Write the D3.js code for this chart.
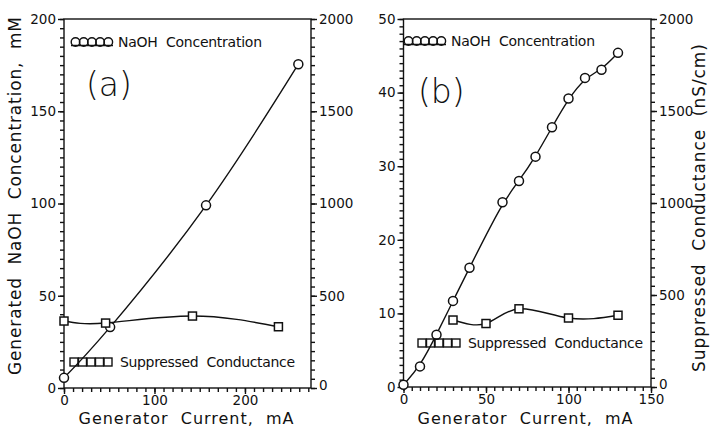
<!DOCTYPE html>
<html>
<head>
<meta charset="utf-8">
<script src="https://cdn.jsdelivr.net/npm/d3@7"></script>
<style>
  body { margin: 0; background: #fff; }
  svg text { font-family: "DejaVu Sans", sans-serif; fill: #111; }
</style>
</head>
<body>
<svg width="717" height="427"></svg>
<script>
// panel (a)
var currentA = [0, 51, 157, 259];
var naohA = [5.5, 33, 99, 175.5];
var condCurrentA = [0, 46, 142, 237];
var condA = [363, 352, 390, 332];

// panel (b)
var currentB = [0, 10, 20, 30, 40, 60, 70, 80, 90, 100, 110, 120, 130];
var naohB = [0.3, 2.8, 7.1, 11.7, 16.2, 25.1, 28.0, 31.3, 35.3, 39.2, 42.0, 43.1, 45.4];
var condCurrentB = [30, 50, 70, 100, 130];
var condB = [364, 345, 425, 375, 390];

var legendNaOH = "NaOH  Concentration";
var legendCond = "Suppressed  Conductance";
var xTitle = "Generator  Current,  mA";
var yLeftTitle = "Generated  NaOH  Concentration,  mM";
var yRightTitle = "Suppressed  Conductance  (nS/cm)";

var svg = d3.select('svg');

var drawPanel = function(p)
{
  var x = d3.scaleLinear().domain(p.xDomain).range([p.left, p.right]);
  var y = d3.scaleLinear().domain(p.yDomain).range([p.bottom, p.top]);
  var y2 = d3.scaleLinear().domain([0, 2000]).range([p.bottom, p.top]);
  var g = svg.append('g');

  // frame
  g.append('rect')
    .attr('x', p.left).attr('y', p.top)
    .attr('width', p.right - p.left).attr('height', p.bottom - p.top)
    .attr('fill', 'none').attr('stroke', '#111').attr('stroke-width', 1.4);

  // minor ticks
  var minorX = d3.axisBottom(x).tickValues(d3.range(p.xDomain[0], p.xDomain[1] + 0.01, p.xMinor)).tickSize(4).tickFormat('');
  var minorY = d3.axisLeft(y).tickValues(d3.range(p.yDomain[0], p.yDomain[1] + 0.01, p.yMinor)).tickSize(4).tickFormat('');
  var minorY2 = d3.axisRight(y2).tickValues(d3.range(0, 2001, 50)).tickSize(4).tickFormat('');
  g.append('g').attr('transform', 'translate(0,' + p.bottom + ')').call(minorX);
  g.append('g').attr('transform', 'translate(' + p.left + ',0)').call(minorY);
  g.append('g').attr('transform', 'translate(' + p.right + ',0)').call(minorY2);

  // major ticks
  var xAxis = d3.axisBottom(x).tickValues(p.xTicks).tickSize(6).tickPadding(1);
  var yAxis = d3.axisLeft(y).tickValues(p.yTicks).tickSize(6).tickPadding(2);
  var y2Axis = d3.axisRight(y2).tickValues([0, 500, 1000, 1500, 2000]).tickSize(6).tickPadding(2)
                 .tickFormat(d3.format('d'));
  g.append('g').attr('transform', 'translate(0,' + p.bottom + ')').call(xAxis);
  g.append('g').attr('transform', 'translate(' + p.left + ',0)').call(yAxis);
  var rightAx = g.append('g').attr('transform', 'translate(' + p.right + ',0)').call(y2Axis);
  // nudge the bottom right label up so it clears the last x label
  rightAx.selectAll('.tick text').filter(function(d) { return d === 0; }).attr('dy', '0.1em');

  g.selectAll('.domain').remove();
  g.selectAll('.tick line').attr('stroke', '#111').attr('stroke-width', 1.4);
  g.selectAll('.tick text').style('font-size', '13.5px').attr('fill', '#111');

  // NaOH curve + circles
  var naohPts = p.naohX.map(function(d, i) { return [d, p.naohY[i]]; });
  g.append('path')
    .attr('d', d3.line().x(function(d) { return x(d[0]); }).y(function(d) { return y(d[1]); }).curve(p.naohCurve)(naohPts))
    .attr('fill', 'none').attr('stroke', '#111').attr('stroke-width', 1.4);
  g.selectAll('circle.pt').data(naohPts).enter().append('circle')
    .attr('cx', function(d) { return x(d[0]); })
    .attr('cy', function(d) { return y(d[1]); })
    .attr('r', 4.5).attr('fill', '#fff').attr('stroke', '#111').attr('stroke-width', 1.5);

  // conductance curve + squares
  var condPts = p.condX.map(function(d, i) { return [d, p.condY[i]]; });
  g.append('path')
    .attr('d', d3.line().x(function(d) { return x(d[0]); }).y(function(d) { return y2(d[1]); }).curve(d3.curveNatural)(condPts))
    .attr('fill', 'none').attr('stroke', '#111').attr('stroke-width', 1.4);
  g.selectAll('rect.pt').data(condPts).enter().append('rect')
    .attr('x', function(d) { return x(d[0]) - 4; })
    .attr('y', function(d) { return y2(d[1]) - 4; })
    .attr('width', 8).attr('height', 8)
    .attr('fill', '#fff').attr('stroke', '#111').attr('stroke-width', 1.5);

  // legend: circles
  var lc = p.legCirc;
  g.append('line').attr('x1', lc[0]).attr('x2', lc[0] + 42).attr('y1', lc[1] + 3.5).attr('y2', lc[1] + 3.5)
    .attr('stroke', '#111').attr('stroke-width', 1.4);
  g.selectAll('circle.leg').data(d3.range(5)).enter().append('circle')
    .attr('cx', function(d) { return lc[0] + 4.5 + d * 8.2; })
    .attr('cy', lc[1]).attr('r', 4.3)
    .attr('fill', 'none').attr('stroke', '#111').attr('stroke-width', 1.4);
  g.append('text').attr('x', lc[0] + 47).attr('y', lc[1] + 5)
    .attr('textLength', 144).style('font-size', '14px').style('white-space', 'pre')
    .text(legendNaOH);

  // legend: squares
  var ls = p.legSq;
  g.selectAll('rect.leg').data(d3.range(5)).enter().append('rect')
    .attr('x', function(d) { return ls[0] + d * 8.5; })
    .attr('y', ls[1] - 4).attr('width', 8).attr('height', 8)
    .attr('fill', 'none').attr('stroke', '#111').attr('stroke-width', 1.4);
  g.append('text').attr('x', ls[0] + 50).attr('y', ls[1] + 5)
    .attr('textLength', 175).style('font-size', '14px').style('white-space', 'pre')
    .text(legendCond);

  // panel label
  g.append('text').attr('x', p.tag[0]).attr('y', p.tag[1])
    .style('font-size', '33px').style('font-weight', '200')
    .text(p.tagText);

  // x title
  g.append('text').attr('x', p.xTitleX).attr('y', 424)
    .attr('text-anchor', 'middle').attr('textLength', 215)
    .style('font-size', '16px').style('white-space', 'pre')
    .text(xTitle);
};

drawPanel({
  left: 64, right: 311, top: 19, bottom: 388,
  xDomain: [0, 273], yDomain: [0, 200],
  xTicks: [0, 100, 200], yTicks: [0, 50, 100, 150, 200],
  xMinor: 10, yMinor: 5,
  naohX: currentA, naohY: naohA, naohCurve: d3.curveNatural,
  condX: condCurrentA, condY: condA,
  legCirc: [71, 42], legSq: [70, 362],
  tag: [86, 96], tagText: '(a)',
  xTitleX: 186
});

drawPanel({
  left: 403.5, right: 651, top: 19, bottom: 387,
  xDomain: [0, 150], yDomain: [0, 50],
  xTicks: [0, 50, 100, 150], yTicks: [0, 10, 20, 30, 40, 50],
  xMinor: 5, yMinor: 1,
  naohX: currentB, naohY: naohB, naohCurve: d3.curveBasis,
  condX: condCurrentB, condY: condB,
  legCirc: [404, 41], legSq: [418, 343],
  tag: [418, 103], tagText: '(b)',
  xTitleX: 525
});

// rotated axis titles
svg.append('text')
  .attr('transform', 'translate(21,196) rotate(-90)')
  .attr('text-anchor', 'middle').attr('textLength', 358)
  .style('font-size', '17px').style('white-space', 'pre')
  .text(yLeftTitle);
svg.append('text')
  .attr('transform', 'translate(705,208) rotate(-90)')
  .attr('text-anchor', 'middle').attr('textLength', 328)
  .style('font-size', '17px').style('white-space', 'pre')
  .text(yRightTitle);
</script>
</body>
</html>
